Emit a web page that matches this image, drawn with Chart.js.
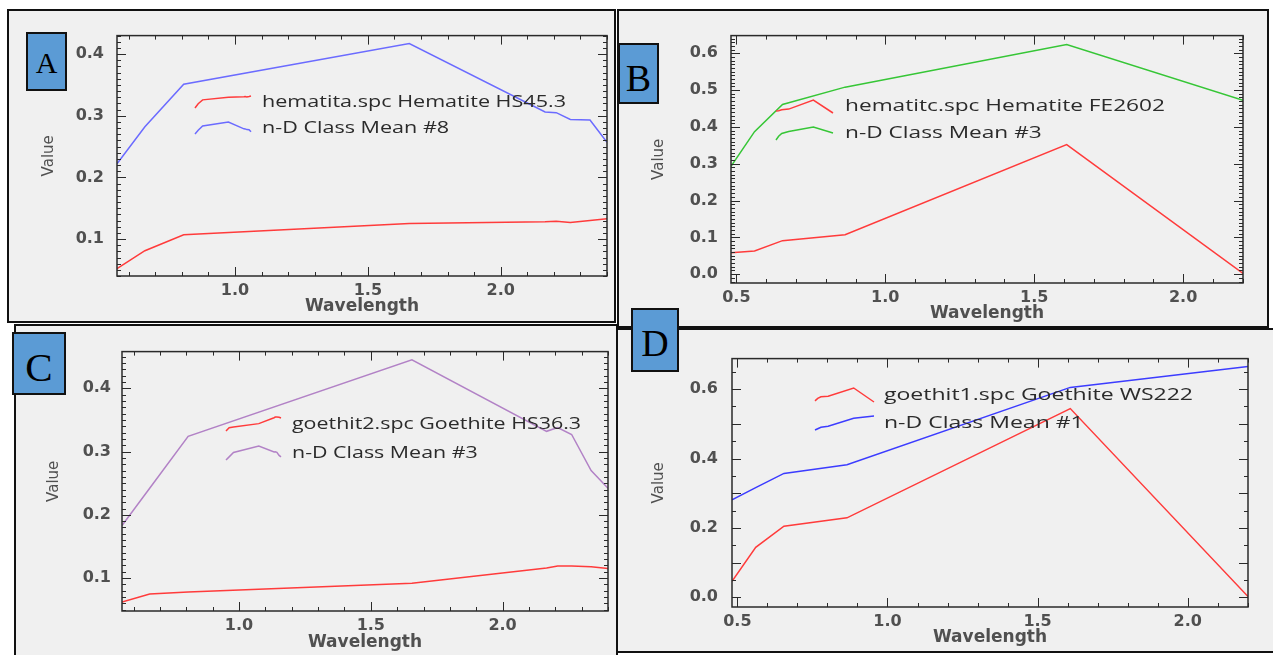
<!DOCTYPE html>
<html>
<head>
<meta charset="utf-8">
<title>Spectra comparison</title>
<script src="https://cdn.jsdelivr.net/npm/chart.js@4.4.1/dist/chart.umd.min.js"></script>
<style>
  html, body { margin: 0; padding: 0; background: #fff; }
  #page { position: relative; width: 1273px; height: 655px; overflow: hidden; background: #fff; }
  .panel { position: absolute; box-sizing: border-box; background: #f0f0f0; border: 2px solid #111; z-index: 1; }
  .plot { position: absolute; z-index: 2; }
  .tag {
    position: absolute; box-sizing: border-box; z-index: 5;
    background: #5b9bd5; border: 2px solid #111; color: #000;
    font-family: "Liberation Serif", "Times New Roman", serif;
    display: flex; align-items: center; justify-content: center;
  }
  .tag span { position: relative; }
</style>
</head>
<body>
<div id="page">
  <div class="panel" style="left:7px;top:9px;width:609px;height:314px"></div>
  <div class="panel" style="left:617px;top:9px;width:652px;height:319px"></div>
  <div class="panel" style="left:14px;top:324px;width:604px;height:345px"></div>
  <div class="panel" style="left:616px;top:328px;width:670px;height:325px"></div>

  <canvas id="chartA" class="plot"></canvas>
  <canvas id="chartB" class="plot"></canvas>
  <canvas id="chartC" class="plot"></canvas>
  <canvas id="chartD" class="plot"></canvas>

  <div class="tag" style="left:26px;top:32px;width:41px;height:59px;font-size:30px"><span style="top:1px">A</span></div>
  <div class="tag" style="left:618px;top:43px;width:41px;height:61px;font-size:38px"><span style="top:4px">B</span></div>
  <div class="tag" style="left:12px;top:332px;width:54px;height:63px;font-size:41px"><span style="top:3px">C</span></div>
  <div class="tag" style="left:631px;top:308px;width:48px;height:64px;font-size:38px"><span style="top:3px">D</span></div>
</div>

<script>
// band centres (micrometres)
const asterWavelength = [0.556, 0.661, 0.807, 1.656, 2.167, 2.209, 2.262, 2.336, 2.400];
const oliWavelength = [0.482, 0.561, 0.655, 0.865, 1.609, 2.201];

// A: hematite vs class mean #8
const hematitaHS453 = [0.052, 0.081, 0.107, 0.125, 0.128, 0.129, 0.127, 0.130, 0.133];
const classMean8 = [0.222, 0.282, 0.351, 0.417, 0.306, 0.305, 0.294, 0.293, 0.257];

// B: hematite vs class mean #3
const hematitcFE2602 = [0.058, 0.063, 0.091, 0.107, 0.352, 0.002];
const classMean3B = [0.293, 0.387, 0.461, 0.508, 0.624, 0.472];

// C: goethite vs class mean #3
const goethit2HS363 = [0.062, 0.075, 0.078, 0.092, 0.116, 0.119, 0.119, 0.118, 0.115];
const classMean3C = [0.183, 0.242, 0.324, 0.445, 0.332, 0.338, 0.327, 0.270, 0.242];

// D: goethite vs class mean #1
const goethit1WS222 = [0.046, 0.144, 0.205, 0.229, 0.544, 0.002];
const classMean1 = [0.281, 0.316, 0.357, 0.382, 0.605, 0.665];

// axis ranges and tick labels
const xRangeAster = [0.556, 2.400];
const xRangeOli = [0.482, 2.201];
const yRangeA = [0.040, 0.430];
const yRangeB = [-0.024, 0.648];
const yRangeC = [0.048, 0.458];
const yRangeD = [-0.028, 0.688];
const xTicksAster = [1.0, 1.5, 2.0];
const xTicksOli = [0.5, 1.0, 1.5, 2.0];
const yTicksA = [0.1, 0.2, 0.3, 0.4];
const yTicksB = [0.0, 0.1, 0.2, 0.3, 0.4, 0.5, 0.6];
const yTicksC = [0.1, 0.2, 0.3, 0.4];
const yTicksD = [0.0, 0.2, 0.4, 0.6];

const RED = "#ff3b3b";
const PAD = { left: 100, top: 20, right: 20, bottom: 50 };
const TICK_FONT = { family: "DejaVu Sans", size: 16, weight: "bold" };
const X_TITLE_FONT = { family: "DejaVu Sans", size: 17, weight: "bold" };
const Y_TITLE_FONT = { family: "DejaVu Sans", size: 15, weight: "normal" };

const panels = [
  {
    id: "chartA", plot: [117, 33, 607, 276], yTitleX: 49, xTitleY: 307, yGap: 13,
    x: asterWavelength, xRange: xRangeAster, yRange: yRangeA, xTicks: xTicksAster, yTicks: yTicksA,
    xMinor: 0.1, xMajor: 0.5, yMinor: 0.01, yMajor: 0.1,
    series: [
      { label: "hematita.spc Hematite HS45.3", data: hematitaHS453, color: RED },
      { label: "n-D Class Mean #8", data: classMean8, color: "#6b6bff" }
    ],
    legend: { sample: [195, 96, 56, 12], rowGap: 26, textX: 262, width: 304 }
  },
  {
    id: "chartB", plot: [731, 33, 1243, 283], yTitleX: 659, xTitleY: 314, yGap: 13,
    x: oliWavelength, xRange: xRangeOli, yRange: yRangeB, xTicks: xTicksOli, yTicks: yTicksB,
    xMinor: 0.1, xMajor: 0.5, yMinor: 0.01, yMajor: 0.1,
    series: [
      { label: "hematitc.spc Hematite FE2602", data: hematitcFE2602, color: RED },
      { label: "n-D Class Mean #3", data: classMean3B, color: "#36c636" }
    ],
    legend: { sample: [776, 100, 57, 13], rowGap: 27, textX: 845, width: 320 }
  },
  {
    id: "chartC", plot: [122, 351, 608, 611], yTitleX: 54, xTitleY: 643, yGap: 11,
    x: asterWavelength, xRange: xRangeAster, yRange: yRangeC, xTicks: xTicksAster, yTicks: yTicksC,
    xMinor: 0.1, xMajor: 0.5, yMinor: 0.01, yMajor: 0.1,
    series: [
      { label: "goethit2.spc Goethite HS36.3", data: goethit2HS363, color: RED },
      { label: "n-D Class Mean #3", data: classMean3C, color: "#b282c6" }
    ],
    legend: { sample: [226, 417, 55, 14], rowGap: 29, textX: 292, width: 289 }
  },
  {
    id: "chartD", plot: [732, 355, 1248, 607], yTitleX: 659, xTitleY: 638, yGap: 14,
    x: oliWavelength, xRange: xRangeOli, yRange: yRangeD, xTicks: xTicksOli, yTicks: yTicksD,
    xMinor: 0.1, xMajor: 0.5, yMinor: 0.05, yMajor: 0.1,
    series: [
      { label: "goethit1.spc Goethite WS222", data: goethit1WS222, color: RED },
      { label: "n-D Class Mean #1", data: classMean1, color: "#3c3cff" }
    ],
    legend: { sample: [815, 388, 59, 14], rowGap: 28, textX: 884, width: 309 }
  }
];

// steps between min and max, done on integers so 0.1 * k stays clean
function stepValues(min, max, step) {
  const out = [];
  for (let k = Math.ceil(min / step - 1e-6); k * step <= max + 1e-6; k++) {
    out.push(k * step);
  }
  return out;
}

function isMultiple(v, step) {
  const r = Math.abs(v / step - Math.round(v / step));
  return r < 1e-6;
}

// frame round the plot, ticks pointing inwards on all four sides
const frameTicksPlugin = {
  id: "frameTicks",
  afterDatasetsDraw(chart, args, opts) {
    const { ctx, chartArea: a, scales: { x, y } } = chart;
    ctx.save();
    ctx.strokeStyle = "#2a2a2a";
    ctx.lineWidth = 1;
    ctx.beginPath();
    stepValues(x.min, x.max, opts.xMinor).forEach(v => {
      const len = isMultiple(v, opts.xMajor) ? 9 : 4;
      const px = Math.round(x.getPixelForValue(v)) + 0.5;
      ctx.moveTo(px, a.bottom); ctx.lineTo(px, a.bottom - len);
      ctx.moveTo(px, a.top); ctx.lineTo(px, a.top + len);
    });
    stepValues(y.min, y.max, opts.yMinor).forEach(v => {
      const len = isMultiple(v, opts.yMajor) ? 9 : 4;
      const py = Math.round(y.getPixelForValue(v)) + 0.5;
      ctx.moveTo(a.left, py); ctx.lineTo(a.left + len, py);
      ctx.moveTo(a.right, py); ctx.lineTo(a.right - len, py);
    });
    ctx.stroke();
    ctx.lineWidth = 1.5;
    ctx.strokeRect(a.left, a.top, a.right - a.left, a.bottom - a.top);
    ctx.restore();
  }
};

// ENVI style key: a small copy of each spectrum next to its name
const miniLegendPlugin = {
  id: "miniLegend",
  afterDraw(chart, args, opts) {
    const { ctx } = chart;
    const [sx, sy, sw, sh] = opts.sample;
    const [ox, oy] = opts.offset;
    ctx.save();
    ctx.font = '17px "Open Sans"';
    const stretch = opts.width / ctx.measureText(chart.data.datasets[0].label).width;
    chart.data.datasets.forEach((ds, i) => {
      const ys = ds.data.map(d => d.y);
      const lo = Math.min(...ys);
      const hi = Math.max(...ys);
      const x0 = ds.data[0].x;
      const x1 = ds.data[ds.data.length - 1].x;
      const left = sx - ox;
      const top = sy + i * opts.rowGap - oy;
      ctx.beginPath();
      ds.data.forEach((d, j) => {
        const px = left + (d.x - x0) / (x1 - x0) * sw;
        const py = top + sh - (d.y - lo) / (hi - lo) * sh;
        if (j === 0) ctx.moveTo(px, py); else ctx.lineTo(px, py);
      });
      ctx.strokeStyle = ds.borderColor;
      ctx.lineWidth = 1.5;
      ctx.stroke();

      ctx.save();
      ctx.translate(opts.textX - ox, top + sh / 2);
      ctx.scale(stretch, 1);
      ctx.fillStyle = "#2b2b2b";
      ctx.textBaseline = "middle";
      ctx.fillText(ds.label, 0, 0);
      ctx.restore();
    });
    ctx.restore();
  }
};

function buildPanelChart(p) {
  const canvas = document.getElementById(p.id);
  const [L, T, R, B] = p.plot;
  const left = L - PAD.left;
  const top = T - PAD.top;
  const w = R - L + PAD.left + PAD.right;
  const h = B - T + PAD.top + PAD.bottom;
  canvas.width = w;
  canvas.height = h;
  canvas.style.left = left + "px";
  canvas.style.top = top + "px";
  canvas.style.width = w + "px";
  canvas.style.height = h + "px";

  const yTitlePad = p.yTitleX - left - Y_TITLE_FONT.size * 1.2 / 2;
  const xTitlePad = (top + h) - p.xTitleY - X_TITLE_FONT.size * 1.2 / 2;

  return new Chart(canvas, {
    type: "line",
    data: {
      datasets: p.series.map(s => ({
        label: s.label,
        data: p.x.map((x, i) => ({ x, y: s.data[i] })),
        borderColor: s.color,
        borderWidth: 1.5,
        pointRadius: 0,
        tension: 0,
        fill: false
      }))
    },
    options: {
      responsive: false,
      animation: false,
      layout: { padding: { left: 0, top: PAD.top, right: PAD.right, bottom: 0 } },
      plugins: {
        legend: { display: false },
        tooltip: { enabled: false },
        frameTicks: { xMinor: p.xMinor, xMajor: p.xMajor, yMinor: p.yMinor, yMajor: p.yMajor },
        miniLegend: Object.assign({ offset: [left, top] }, p.legend)
      },
      scales: {
        x: {
          type: "linear",
          min: p.xRange[0],
          max: p.xRange[1],
          afterFit: s => { s.height = PAD.bottom; },
          afterBuildTicks: s => { s.ticks = p.xTicks.map(v => ({ value: v })); },
          grid: { display: false, drawTicks: false },
          border: { display: false },
          ticks: {
            padding: 5,
            color: "#505050",
            font: TICK_FONT,
            maxRotation: 0,
            autoSkip: false,
            callback: v => Number(v).toFixed(1)
          },
          title: {
            display: true,
            text: "Wavelength",
            color: "#505050",
            font: X_TITLE_FONT,
            padding: { top: 0, bottom: xTitlePad }
          }
        },
        y: {
          type: "linear",
          min: p.yRange[0],
          max: p.yRange[1],
          afterFit: s => { s.width = PAD.left; },
          afterBuildTicks: s => { s.ticks = p.yTicks.map(v => ({ value: v })); },
          grid: { display: false, drawTicks: false },
          border: { display: false },
          ticks: {
            padding: p.yGap,
            color: "#505050",
            font: TICK_FONT,
            autoSkip: false,
            callback: v => Number(v).toFixed(1)
          },
          title: {
            display: true,
            text: "Value",
            color: "#505050",
            font: Y_TITLE_FONT,
            padding: { top: yTitlePad, bottom: 0 }
          }
        }
      }
    },
    plugins: [frameTicksPlugin, miniLegendPlugin]
  });
}

panels.forEach(buildPanelChart);
</script>
</body>
</html>
